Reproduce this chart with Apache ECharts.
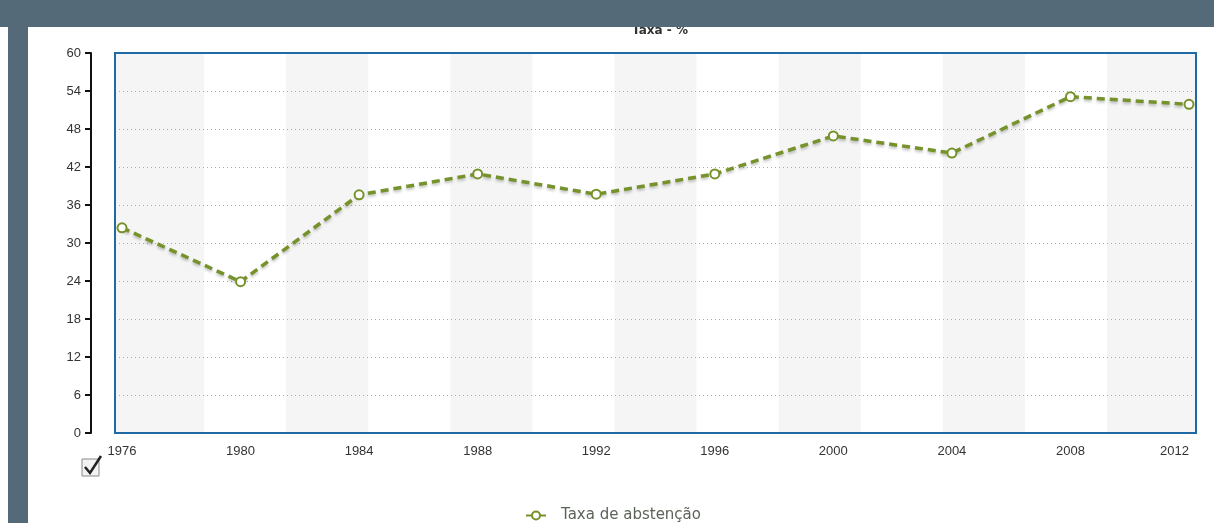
<!DOCTYPE html>
<html>
<head>
<meta charset="utf-8">
<script src="https://cdn.jsdelivr.net/npm/echarts@6/dist/echarts.min.js"></script>
<style>
  html, body { margin: 0; padding: 0; background: #fff; }
  #chart { width: 1214px; height: 523px; }
</style>
</head>
<body>
<div id="chart"></div>
<script>
// Taxa de abstenção - linha tracejada
var years = ['1976', '1980', '1984', '1988', '1992', '1996', '2000', '2004', '2008', '2012'];
var abstencao = [32.4, 23.9, 37.6, 40.9, 37.7, 40.9, 46.9, 44.2, 53.1, 51.9];
var seriesName = 'Taxa de abstenção';
var chartTitle = 'Taxa - %';

var green = '#76922a';
var myChart = echarts.init(document.getElementById('chart'));

var option = {
  animation: false,
  title: {
    text: chartTitle,
    left: 655,
    top: 20,
    textAlign: 'center',
    textStyle: { fontFamily: 'DejaVu Sans', fontSize: 12, fontWeight: 'bold', color: '#333' }
  },
  legend: {
    top: 503,
    left: 520,
    itemWidth: 20,
    itemHeight: 10,
    textStyle: { fontFamily: 'DejaVu Sans', fontSize: 15, color: '#5c6358', padding: [0, 0, 0, 10] },
    data: [seriesName]
  },
  grid: [
    // fundo cinza
    { left: 115, right: 18, top: 53, bottom: 90, show: true, z: 0, borderWidth: 0, backgroundColor: '#f5f5f5' },
    // area dos dados + faixas
    { left: 122, right: 25, top: 53, bottom: 90 },
    // moldura azul
    { left: 115, right: 18, top: 53, bottom: 90, show: true, z: 3, borderColor: '#1f6aa5', borderWidth: 2, backgroundColor: 'transparent' }
  ],
  xAxis: [
    { type: 'value', gridIndex: 0, min: 0, max: 1, show: false },
    {
      type: 'category', gridIndex: 1, boundaryGap: false, data: years,
      axisLine: { show: false }, axisTick: { show: false },
      axisLabel: { margin: 12, fontFamily: 'Liberation Sans', fontSize: 13, color: '#333', alignMaxLabel: 'right' }
    },
    {
      type: 'value', gridIndex: 1, min: 0, max: 13, interval: 1, z: 1,
      axisLine: { show: false }, axisTick: { show: false }, axisLabel: { show: false },
      splitLine: { show: false },
      splitArea: { show: true, areaStyle: { color: ['rgba(255,255,255,0)', '#ffffff'] } }
    },
    { type: 'value', gridIndex: 2, min: 0, max: 1, show: false }
  ],
  yAxis: [
    {
      type: 'value', gridIndex: 0, min: 0, max: 60, interval: 6, offset: 24, z: 2,
      axisLine: { show: true, onZero: false, lineStyle: { color: '#111', width: 2 } },
      axisTick: { show: true, length: 6, lineStyle: { color: '#111', width: 2 } },
      axisLabel: { margin: 10, fontFamily: 'Liberation Sans', fontSize: 13, color: '#333' },
      splitLine: { show: true, lineStyle: { color: '#aaaaaa', type: [1, 3] } }
    },
    { type: 'value', gridIndex: 1, min: 0, max: 60, show: false },
    { type: 'value', gridIndex: 2, min: 0, max: 1, show: false }
  ],
  series: [
    {
      name: seriesName,
      type: 'line',
      xAxisIndex: 1,
      yAxisIndex: 1,
      data: abstencao,
      symbol: 'circle',
      symbolSize: 9,
      itemStyle: { color: '#fff', borderColor: green, borderWidth: 2 },
      lineStyle: {
        color: green, width: 3.5, type: [8, 5],
        shadowColor: 'rgba(0,0,0,0.25)', shadowBlur: 3, shadowOffsetY: 2
      },
      z: 5
    }
  ],
  graphic: [
    // fundo escuro da pagina
    { type: 'rect', z: 100, shape: { x: 0, y: 0, width: 1214, height: 27 }, style: { fill: '#546a78' } },
    { type: 'rect', z: 100, shape: { x: 8, y: 0, width: 20, height: 523 }, style: { fill: '#546a78' } },
    // caixa de selecao
    { type: 'rect', z: 50, shape: { x: 82, y: 459, width: 17, height: 17 }, style: { fill: '#f2f2f2', stroke: '#8a8a8a', lineWidth: 1 } },
    { type: 'polyline', z: 51, shape: { points: [[85, 467], [90, 473], [101, 456]] }, style: { stroke: '#222', lineWidth: 2.5, fill: null } }
  ]
};

myChart.setOption(option);
</script>
</body>
</html>
